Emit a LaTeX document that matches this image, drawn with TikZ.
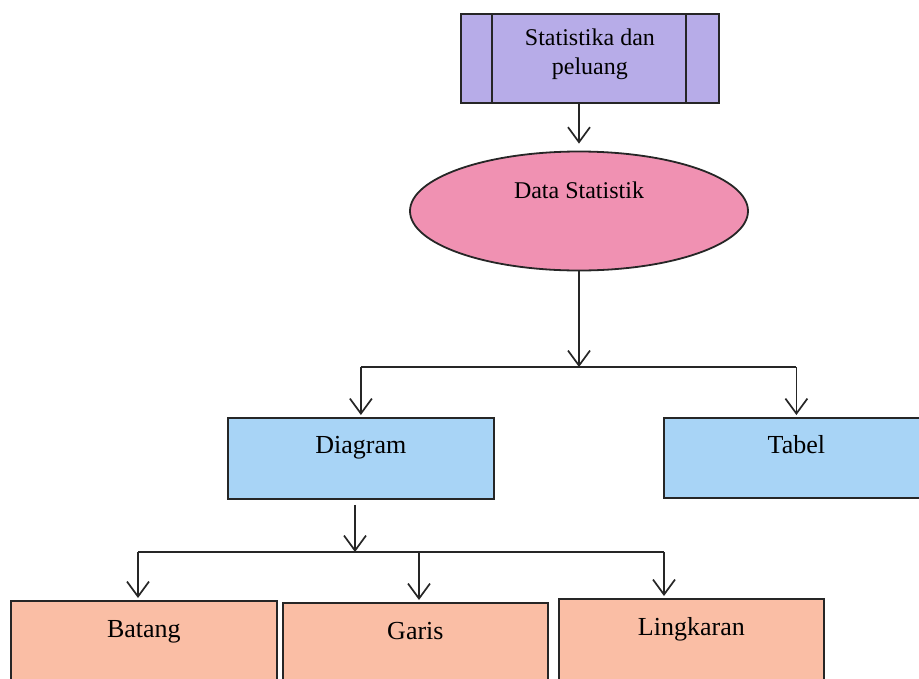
\documentclass[tikz,border=0pt]{standalone}
\usepackage{fontspec}
\setmainfont{Liberation Serif}
\usetikzlibrary{arrows.meta,shapes.geometric}
\definecolor{lav}{RGB}{183,172,232}
\definecolor{pinkfill}{RGB}{240,145,178}
\definecolor{bluefill}{RGB}{168,212,246}
\definecolor{salmon}{RGB}{250,190,165}
\tikzset{
  ln/.style={line width=1.8pt, draw=black!85},
  arr/.style={ln, -{Straight Barb[length=15pt,width=22pt,line width=1.7pt]}},
  boxA/.style={ln, rectangle, inner sep=0pt, anchor=north west,
     font=\fontsize{26}{31}\selectfont, text height=18pt, text depth=27pt},
  boxB/.style={ln, rectangle, inner sep=0pt, anchor=north west,
     font=\fontsize{26}{31}\selectfont, text height=18pt, text depth=40pt,
     minimum height=96pt},
}
\begin{document}
\begin{tikzpicture}[x=1pt,y=-1pt]
\useasboundingbox (0,0) rectangle (919,678);
\clip (0,0) rectangle (919,678);
\fill[white] (0,0) rectangle (919,678);
% top box
\node[ln, fill=lav, rectangle, inner sep=0pt, anchor=north west,
      minimum width=258pt, minimum height=89pt, align=center,
      font=\fontsize{24}{29}\selectfont, text height=39pt, text depth=6pt]
      (top) at (460,13) {Statistika dan\\peluang};
\draw[ln] (492,13) -- (492,102);
\draw[ln] (686,13) -- (686,102);
% ellipse
\node[ln, fill=pinkfill, ellipse, inner sep=0pt, minimum width=338pt,
      minimum height=119pt, font=\fontsize{24}{29}\selectfont,
      text height=18pt, text depth=44pt]
      (ds) at (579,211) {Data Statistik};
% level 2
\node[boxA, fill=bluefill, minimum width=266pt, minimum height=81pt] (diag) at (227,417) {Diagram};
\node[boxA, fill=bluefill, minimum width=265pt, minimum height=80pt] (tab) at (663,417) {Tabel};
% level 3
\node[boxB, fill=salmon, minimum width=266pt] (bat) at (10,600) {Batang};
\node[boxB, fill=salmon, minimum width=265pt] (gar) at (282,602) {Garis};
\node[boxB, fill=salmon, minimum width=265pt] (lin) at (558,598) {Lingkaran};
% junctions
\coordinate (j1) at (579,367);
\coordinate (j2) at (355,552);
\coordinate (a1) at (138,552);
\coordinate (a2) at (419,552);
\coordinate (a3) at (664,552);
% connectors
\draw[arr, shorten >=7pt] (top.south -| ds.north) -- (ds.north);
\draw[arr] (ds.south) -- (j1);
\draw[ln] (diag.north |- j1) -- (tab.north |- j1);
\draw[arr, shorten >=2pt] (diag.north |- j1) -- (diag.north);
\draw[arr, shorten >=2pt] (tab.north |- j1) -- (tab.north);
\draw[arr, shorten <=5pt] (diag.south -| j2) -- (j2);
\draw[ln] (a1) -- (a3);
\draw[arr, shorten >=2pt] (a1) -- (a1 |- bat.north);
\draw[arr, shorten >=2pt] (a2) -- (a2 |- gar.north);
\draw[arr, shorten >=2pt] (a3) -- (a3 |- lin.north);
\end{tikzpicture}
\end{document}
